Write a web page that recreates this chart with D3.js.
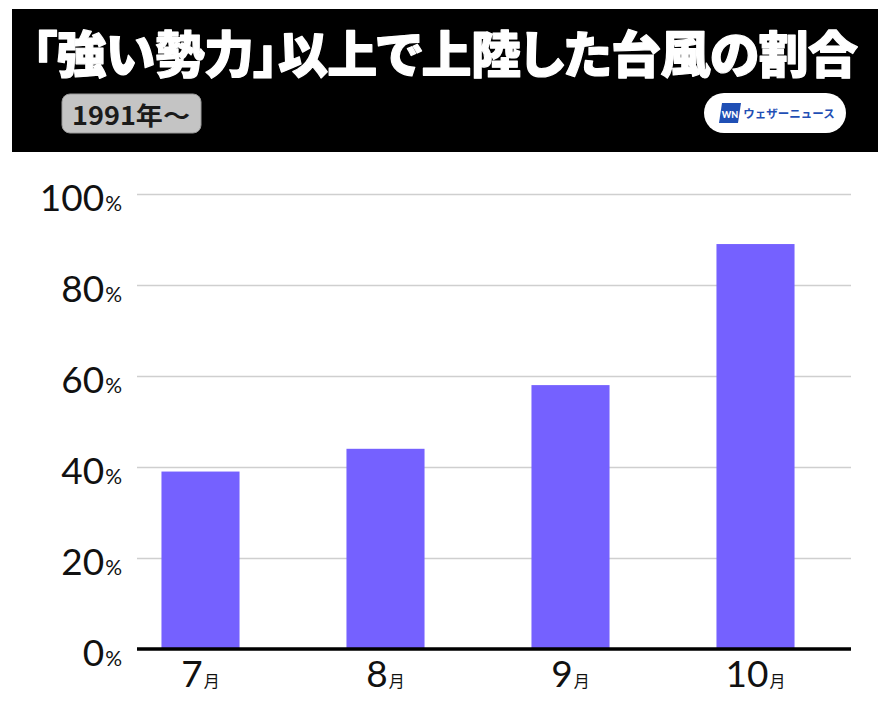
<!DOCTYPE html>
<html><head><meta charset="utf-8">
<script src="https://cdn.jsdelivr.net/npm/d3@7"></script>
<style>html,body{margin:0;padding:0;background:#fff;}svg{display:block;}</style>
</head><body>
<script>
const titleText = "「強い勢力」以上で上陸した台風の割合";
const badgeText = "1991年〜";
const logoText = "ウェザーニュース";
const months = ["7", "8", "9", "10"];
const monthUnit = "月";
const values = [39, 44, 58, 89];
const yTicks = [0, 20, 40, 60, 80, 100];

const W = 890, H = 703;
const svg = d3.select("body").append("svg").attr("width", W).attr("height", H);
svg.append("rect").attr("width", W).attr("height", H).attr("fill", "#fff");

// header
svg.append("rect").attr("x", 12).attr("y", 9).attr("width", 866).attr("height", 143).attr("fill", "#000");
const title = svg.append("text").attr("x", 32).attr("y", 51)
  .attr("text-anchor", "start").attr("dominant-baseline", "central")
  .attr("font-family", "'Noto Sans CJK JP'").attr("font-weight", 900)
  .attr("font-size", 50).attr("fill", "#fff")
  .attr("stroke", "#fff").attr("stroke-width", 1.2).attr("stroke-linejoin", "round")
  .style("font-feature-settings", "'palt'")
  .text(titleText);
title.attr("textLength", 826).attr("lengthAdjust", "spacing");

svg.append("rect").attr("x", 62).attr("y", 94).attr("width", 139).attr("height", 39)
  .attr("rx", 8).attr("fill", "#c4c4c4").attr("stroke", "#9a9a9a").attr("stroke-width", 1);
svg.append("text").attr("x", 131).attr("y", 114)
  .attr("text-anchor", "middle").attr("dominant-baseline", "central")
  .attr("font-family", "'Noto Sans CJK JP'").attr("font-weight", 700)
  .attr("font-size", 25).attr("fill", "#1a1a1a")
  .attr("textLength", 118).attr("lengthAdjust", "spacingAndGlyphs")
  .text(badgeText);

svg.append("rect").attr("x", 704).attr("y", 93).attr("width", 142).attr("height", 40)
  .attr("rx", 20).attr("fill", "#fff");
svg.append("path").attr("d", "M722,103 L741,103 L738,123 L719,123 Z").attr("fill", "#1f4fb5");
svg.append("text").attr("x", 730).attr("y", 114).attr("text-anchor", "middle").attr("dominant-baseline", "central")
  .attr("font-family", "Lato").attr("font-weight", 900).attr("font-size", 9).attr("fill", "#fff").text("WN");
svg.append("text").attr("x", 789).attr("y", 113)
  .attr("text-anchor", "middle").attr("dominant-baseline", "central")
  .attr("font-family", "'Noto Sans CJK JP'").attr("font-weight", 700)
  .attr("font-size", 11.5).attr("fill", "#1f4fb5").text(logoText);

// chart
const y = d3.scaleLinear().domain([0, 100]).range([649, 194]);
const x = d3.scaleBand().domain(months).range([108, 848]).paddingInner(0.578).paddingOuter(0.289);
const gridX0 = 137, gridX1 = 851;

const yAxis = d3.axisLeft(y).tickValues(yTicks).tickSize(-(gridX1 - gridX0)).tickFormat("");
const gy = svg.append("g").attr("transform", `translate(${gridX0},0)`).call(yAxis);
gy.select(".domain").remove();
gy.selectAll(".tick line").attr("stroke", "#cfcfcf").attr("stroke-width", 1.5);

gy.selectAll(".tick").each(function(d) {
  const t = d3.select(this).append("text")
    .attr("x", -15).attr("y", 16)
    .attr("text-anchor", "end").attr("fill", "#111")
    .attr("font-family", "Lato").attr("font-weight", 400);
  t.append("tspan").attr("font-size", 37).text(d);
  t.append("tspan").attr("font-size", 21).attr("dx", 1).text("%");
});

svg.selectAll("rect.bar").data(values).join("rect").attr("class", "bar")
  .attr("x", (d, i) => x(months[i])).attr("width", x.bandwidth())
  .attr("y", d => y(d)).attr("height", d => y(0) - y(d))
  .attr("fill", "#7561ff");

const xAxis = d3.axisBottom(x).tickSize(0).tickFormat("");
const gx = svg.append("g").attr("transform", `translate(0,${y(0)})`).call(xAxis);
gx.select(".domain").remove();
svg.append("line").attr("x1", gridX0).attr("x2", gridX1).attr("y1", y(0)).attr("y2", y(0))
  .attr("stroke", "#000").attr("stroke-width", 3.5);
gx.selectAll(".tick").each(function(d) {
  const t = d3.select(this).append("text")
    .attr("x", 0).attr("y", 38).attr("text-anchor", "middle").attr("fill", "#111");
  t.append("tspan").attr("font-family", "Lato").attr("font-size", 37).text(d);
  t.append("tspan").attr("font-family", "'Noto Sans CJK JP'").attr("font-size", 16).attr("dx", 1).text(monthUnit);
});
</script>
</body></html>
